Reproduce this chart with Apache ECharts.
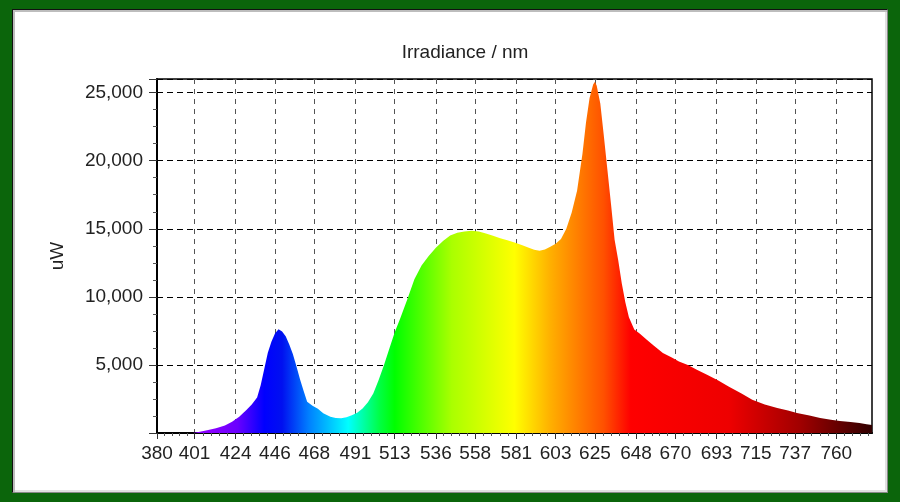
<!DOCTYPE html>
<html>
<head>
<meta charset="utf-8">
<script src="https://cdn.jsdelivr.net/npm/echarts@6/dist/echarts.min.js"></script>
<style>
  html, body { margin: 0; padding: 0; background: #0b650b; }
  .frame {
    position: absolute; left: 12px; top: 9px; width: 876px; height: 484px;
    box-sizing: border-box; background: #fff;
    border-top: 1px solid #111; border-left: 1px solid #111;
    border-right: 1px solid #888; border-bottom: 1px solid #888;
    box-shadow: inset 2px 2px 0 #bdbdbd, inset -2px -2px 0 #e0e0e0;
  }
  #chart { position: absolute; left: 0; top: 0; width: 900px; height: 502px; }
</style>
</head>
<body>
<div class="frame"></div>
<div id="chart"></div>
<script>
// 波长 (nm)
var wavelength = [380, 390, 400, 404, 408, 413, 418, 422, 426, 430, 433, 436, 438, 440, 442, 444, 446, 448, 450, 452,
  454, 456, 458, 460, 462, 464, 467, 470, 473, 477, 480, 483, 486, 489, 492, 495, 498, 501, 504, 507,
  510, 513, 516, 520, 524, 528, 532, 536, 540, 544, 548, 552, 556, 560, 564, 568, 572, 576, 580, 584,
  588, 591, 594, 597, 600, 603, 606, 609, 612, 615, 618, 620, 622, 624, 625, 626, 628, 630, 632, 634,
  636, 638, 640, 642, 644, 647, 650, 654, 658, 663, 668, 672, 677, 682, 688, 694, 700, 707, 713, 720,
  727, 733, 738, 745, 751, 757, 762, 768, 773, 777, 780];
// 辐照度 (uW)
var irradiance = [0, 0, 0, 100, 200, 340, 560, 830, 1200, 1690, 2100, 2600, 3500, 4700, 5900, 6700, 7300, 7620, 7450, 7100,
  6500, 5800, 4900, 3950, 3100, 2300, 2000, 1780, 1450, 1200, 1100, 1080, 1150, 1300, 1480, 1800, 2250, 2900, 3900, 5000,
  6200, 7400, 8400, 9800, 11300, 12300, 13000, 13600, 14100, 14500, 14700, 14800, 14850, 14800, 14650, 14480, 14300, 14150, 14000, 13800,
  13600, 13450, 13380, 13480, 13680, 13900, 14250, 15000, 16200, 17800, 20500, 22800, 24600, 25600, 25800, 25500, 24200, 21800, 19300, 16800,
  14200, 12700, 11000, 9600, 8500, 7600, 7300, 6850, 6400, 5880, 5550, 5250, 5000, 4650, 4265, 3850, 3400, 2900, 2450, 2100,
  1840, 1650, 1470, 1280, 1100, 980, 880, 800, 735, 650, 590];
// x轴刻度
var xLabels = [380, 401, 424, 446, 468, 491, 513, 536, 558, 581, 603, 625, 648, 670, 693, 715, 737, 760];
// 光谱颜色
var specNm = [380, 410, 425, 440, 450, 465, 487, 505, 513, 545, 580, 600, 615, 630, 645, 700, 740, 780];
var specColor = ['#8000ff', '#8a00ff', '#6a00ff', '#0000ff', '#0010f0', '#0080ff', '#00ffff', '#00ff40', '#00ff00',
  '#aaff00', '#ffff00', '#ffb000', '#ff8000', '#ff5000', '#ff0000', '#ee0000', '#a00000', '#300000'];

var xMin = 380, xMax = 780;

// 次刻度
var minorTicks = [];
for (var i = 0; i < xLabels.length - 1; i++) {
  var step = (xLabels[i + 1] - xLabels[i]) / 5;
  for (var k = 1; k < 5; k++) minorTicks.push(xLabels[i] + step * k);
}
var last = xLabels[xLabels.length - 1];
for (var t = last + 4.48; t < xMax; t += 4.48) minorTicks.push(t);

var stops = specNm.map(function (nm, i) {
  return { offset: (nm - xMin) / (xMax - xMin), color: specColor[i] };
});

var seriesData = wavelength.map(function (w, i) { return [w, irradiance[i]]; });

var fontFam = '"Liberation Sans", Arial, sans-serif';

var option = {
  animation: false,
  backgroundColor: 'transparent',
  title: {
    text: 'Irradiance / nm',
    left: 460,
    top: 38,
    textAlign: 'center',
    textStyle: { fontFamily: fontFam, fontSize: 19, fontWeight: 'normal', color: '#222' }
  },
  grid: {
    left: 157, right: 28, top: 79, bottom: 69,
    show: true, borderColor: '#000', borderWidth: 1.5,
    containLabel: false
  },
  xAxis: [{
    type: 'value',
    min: xMin,
    max: xMax,
    axisLine: { show: true, lineStyle: { color: '#000', width: 2 } },
    axisTick: { show: true, customValues: xLabels, length: 6, lineStyle: { color: '#333' } },
    axisLabel: { customValues: xLabels, margin: 11, fontFamily: fontFam, fontSize: 19, color: '#222' },
    splitLine: { show: true, lineStyle: { color: '#555', type: [5, 5], width: 1 } }
  }, {
    type: 'value',
    min: xMin,
    max: xMax,
    position: 'bottom',
    axisLine: { show: false },
    axisTick: { show: true, customValues: minorTicks, length: 3, lineStyle: { color: '#555' } },
    axisLabel: { show: false },
    splitLine: { show: false }
  }],
  yAxis: {
    type: 'value',
    min: 0,
    max: 26000,
    interval: 5000,
    name: 'uW',
    nameLocation: 'middle',
    nameGap: 90,
    nameRotate: 90,
    nameTextStyle: { fontFamily: fontFam, fontSize: 19, color: '#222' },
    axisLine: { show: true, lineStyle: { color: '#000', width: 2 } },
    axisTick: { show: true, length: 8, lineStyle: { color: '#333' } },
    minorTick: { show: true, splitNumber: 4, length: 4, lineStyle: { color: '#555' } },
    axisLabel: {
      margin: 14,
      fontFamily: fontFam, fontSize: 19, color: '#222',
      formatter: function (v) {
        return (v > 0 && v % 5000 === 0) ? v.toLocaleString('en-US') : '';
      }
    },
    splitLine: { show: true, lineStyle: { color: '#000', type: [6, 4], width: 1 } }
  },
  series: [{
    name: 'Irradiance',
    type: 'line',
    xAxisIndex: 0,
    data: seriesData,
    showSymbol: false,
    lineStyle: { width: 0 },
    areaStyle: {
      opacity: 1,
      color: { type: 'linear', x: 0, y: 0, x2: 1, y2: 0, colorStops: stops }
    },
    z: 1
  }]
};

var chartObj = echarts.init(document.getElementById('chart'));
chartObj.setOption(option);
window.addEventListener('resize', function () {
  chartObj.resize();
});
</script>
</body>
</html>
